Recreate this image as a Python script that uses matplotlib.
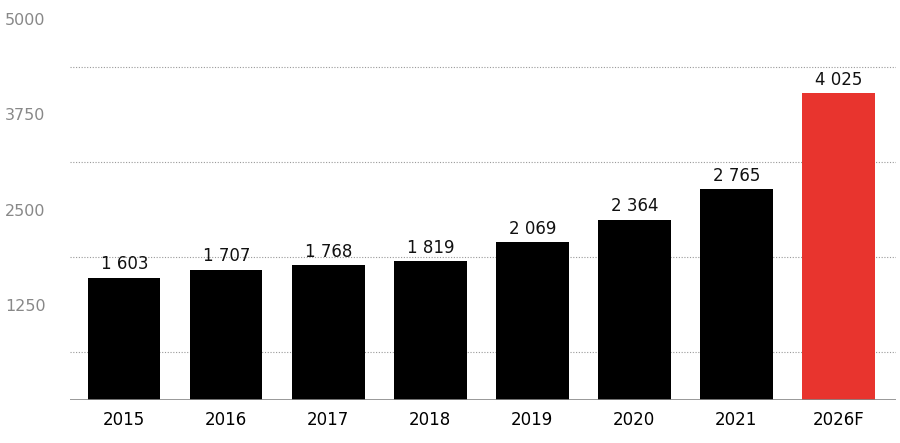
import matplotlib
matplotlib.use("Agg")
import matplotlib.pyplot as plt

categories = ["2015", "2016", "2017", "2018", "2019", "2020", "2021", "2026F"]
values = [1603, 1707, 1768, 1819, 2069, 2364, 2765, 4025]
value_labels = ["1 603", "1 707", "1 768", "1 819", "2 069", "2 364", "2 765", "4 025"]
yticks = [1250, 2500, 3750, 5000]
gridlines = [625, 1875, 3125, 4375]

fig = plt.figure(figsize=(9, 4.43), dpi=100)
ax = fig.add_axes([0.078, 0.097, 0.917, 0.86])
colors = ["#000000"] * 7 + ["#e8342e"]
x = range(len(categories))
ax.bar(x, values, width=0.71, color=colors, zorder=3)
for g in gridlines:
    ax.axhline(g, color="#999999", lw=0.8, ls=(0, (1, 1.5)), zorder=1)
ax.axhline(0, color="#888888", lw=1.2, zorder=4)
for i, (v, l) in enumerate(zip(values, value_labels)):
    ax.text(i, v + 60, l, ha="center", va="bottom", fontsize=12, color="#111111")
ax.set_xlim(-0.53, 7.56)
ax.set_ylim(0, 5000)
ax.set_xticks(list(x))
ax.set_xticklabels(categories, fontsize=12)
ax.set_yticks(yticks)
ax.set_yticklabels([str(t) for t in yticks], fontsize=11.5, color="#888888", ha="left")
ax.tick_params(axis="y", length=0, pad=47)
ax.tick_params(axis="x", length=0, pad=8)
for s in ax.spines.values():
    s.set_visible(False)
fig.savefig("out.png", dpi=100)
